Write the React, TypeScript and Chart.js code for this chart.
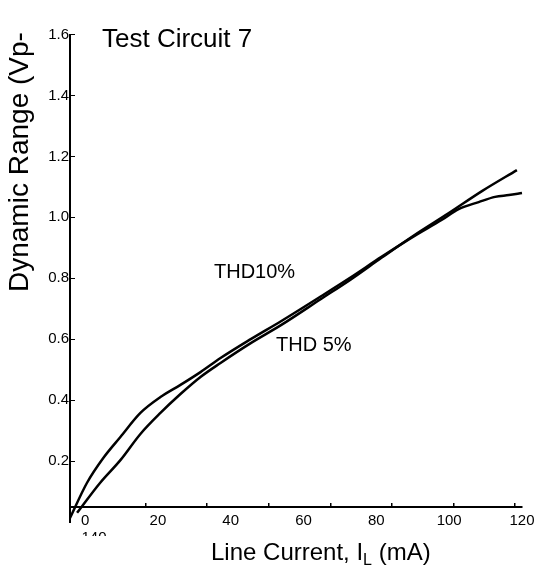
import React, { useEffect, useRef } from 'react';
import { Chart, registerables } from 'chart.js';

Chart.register(...registerables);

const FONT = "'Liberation Sans', Arial, Helvetica, sans-serif";

// THD10% curve (upper-left, flattens at the end)
const thd10Current = [-4.14, 0.5, 5.0, 9.7, 15.2, 20.7, 26.2, 31.7, 37.2, 45.5, 53.8, 64.8, 73.1, 81.4, 90.5, 97.9, 102.6, 108.1, 112.6, 116.4, 120];
const thd10Range = [0.013, 0.128, 0.21, 0.279, 0.358, 0.41, 0.45, 0.492, 0.538, 0.6, 0.659, 0.741, 0.804, 0.87, 0.939, 0.991, 1.027, 1.05, 1.067, 1.073, 1.08];

// THD 5% curve (lower-left, straighter)
const thd5Current = [-2.2, 4.1, 9.7, 15.2, 20.7, 26.2, 31.7, 37.2, 45.5, 53.8, 64.8, 73.1, 81.4, 90.5, 99.9, 109.0, 118.6];
const thd5Range = [0.03, 0.128, 0.203, 0.289, 0.358, 0.42, 0.476, 0.522, 0.587, 0.646, 0.732, 0.797, 0.867, 0.942, 1.014, 1.086, 1.155];

// tick labels
const xTickLabels = [0, 20, 40, 60, 80, 100, 120];
const xAxisMarks = [20, 40, 60, 80, 100, 120, 140];
const yTickLabels = [0.2, 0.4, 0.6, 0.8, 1.0, 1.2, 1.4, 1.6];
const xAxisLevel = 0.049;

const yTitle = 'Dynamic Range (Vp-';
const xTitleMain = 'Line Current, I';
const xTitleSub = 'L';
const xTitleEnd = ' (mA)';
const circuitLabel = 'Test Circuit 7';
const thd10Label = 'THD10%';
const thd5Label = 'THD 5%';

const textPlugin = {
  id: 'chartTexts',
  afterDraw(chart: any) {
    const ctx = chart.ctx as CanvasRenderingContext2D;
    ctx.save();
    ctx.fillStyle = '#000';
    ctx.textBaseline = 'alphabetic';
    ctx.textAlign = 'left';

    ctx.font = `26px ${FONT}`;
    ctx.fillText(circuitLabel, 102, 47);

    ctx.font = `20px ${FONT}`;
    ctx.fillText(thd10Label, 214, 278);
    ctx.fillText(thd5Label, 276, 351);

    // y title (rotated)
    ctx.save();
    ctx.translate(28, 292);
    ctx.rotate(-Math.PI / 2);
    ctx.font = `28px ${FONT}`;
    ctx.fillText(yTitle, 0, 0);
    ctx.restore();

    // x title with subscript
    let x = 211;
    const base = 560;
    ctx.font = `24px ${FONT}`;
    ctx.fillText(xTitleMain, x, base);
    x += ctx.measureText(xTitleMain).width;
    ctx.font = `16px ${FONT}`;
    ctx.fillText(xTitleSub, x, base + 5);
    x += ctx.measureText(xTitleSub).width;
    ctx.font = `24px ${FONT}`;
    ctx.fillText(xTitleEnd, x, base);

    // partially hidden "140" label below the 0
    ctx.save();
    ctx.beginPath();
    ctx.rect(70, 524, 60, 12);
    ctx.clip();
    ctx.font = `15px ${FONT}`;
    ctx.textAlign = 'center';
    ctx.fillText('140', 94, 541.5);
    ctx.restore();

    ctx.restore();
  },
};

export default function App() {
  const canvasRef = useRef<HTMLCanvasElement | null>(null);

  useEffect(() => {
    if (!canvasRef.current) return;
    Chart.defaults.font.family = FONT;
    Chart.defaults.color = '#000';

    const chart = new Chart(canvasRef.current, {
      type: 'line',
      data: {
        datasets: [
          {
            label: thd10Label,
            data: thd10Current.map((c, i) => ({ x: c, y: thd10Range[i] })),
            borderColor: '#000',
            borderWidth: 2.5,
            pointRadius: 0,
            fill: false,
            cubicInterpolationMode: 'monotone',
            clip: false as any,
          },
          {
            label: thd5Label,
            data: thd5Current.map((c, i) => ({ x: c, y: thd5Range[i] })),
            borderColor: '#000',
            borderWidth: 2.5,
            pointRadius: 0,
            fill: false,
            cubicInterpolationMode: 'monotone',
            clip: false as any,
          },
        ],
      },
      options: {
        responsive: false,
        animation: false,
        layout: { padding: { left: 0, right: 13, top: 34.5, bottom: 54 } },
        plugins: {
          legend: { display: false },
          tooltip: { enabled: false },
        },
        scales: {
          x: {
            type: 'linear',
            axis: 'x',
            position: { y: xAxisLevel } as any,
            min: -4.14,
            max: 120,
            afterBuildTicks: (s: any) => {
              s.ticks = xTickLabels.map((v) => ({ value: v }));
            },
            grid: { display: false },
            border: { display: false },
            ticks: {
              padding: -3,
              color: '#000',
              font: { size: 15 },
              maxRotation: 0,
              autoSkip: false,
              callback: (v: any) => String(v),
            },
          } as any,
          xMarks: {
            type: 'linear',
            axis: 'x',
            position: { y: xAxisLevel } as any,
            min: -4.57,
            max: 142.28,
            afterBuildTicks: (s: any) => {
              s.ticks = xAxisMarks.map((v) => ({ value: v }));
            },
            grid: {
              display: true,
              drawOnChartArea: false,
              drawTicks: true,
              tickLength: -5,
              color: '#000',
              lineWidth: 1.5,
            },
            border: { display: true, color: '#000', width: 2 },
            ticks: { display: false },
          } as any,
          y: {
            type: 'linear',
            position: 'left',
            min: 0,
            max: 1.6,
            afterBuildTicks: (s: any) => {
              s.ticks = yTickLabels.map((v) => ({ value: v }));
            },
            afterFit: (s: any) => {
              s.width = 70;
            },
            grid: {
              drawOnChartArea: false,
              tickLength: -5,
              color: '#000',
              lineWidth: 1,
            },
            border: { color: '#000', width: 2 },
            ticks: {
              padding: 6,
              color: '#000',
              font: { size: 15 },
              callback: (v: any) => Number(v).toFixed(1),
            },
          },
        },
      },
      plugins: [textPlugin],
    });

    return () => chart.destroy();
  }, []);

  return (
    <div style={{ position: 'absolute', left: 0, top: 0, width: 535, height: 576 }}>
      <canvas ref={canvasRef} width={535} height={576} />
    </div>
  );
}
